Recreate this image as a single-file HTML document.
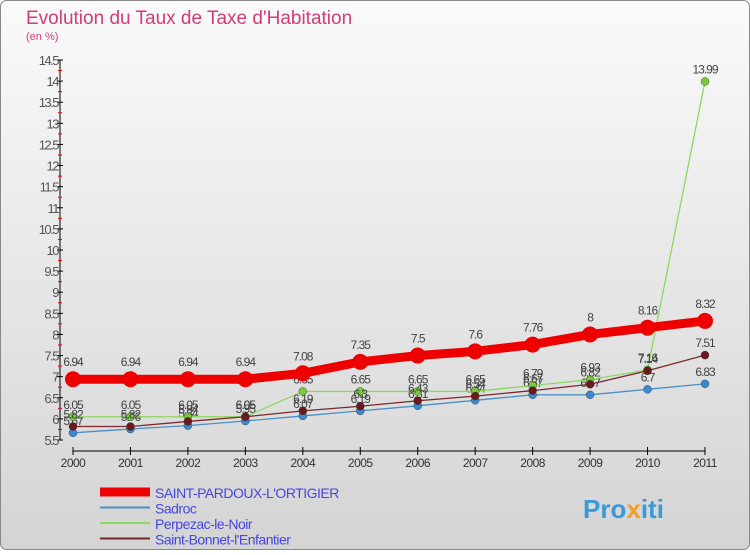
<!DOCTYPE html>
<html><head><meta charset="utf-8"><style>
body{margin:0;width:750px;height:550px;overflow:hidden;font-family:"Liberation Sans",sans-serif}
</style></head><body>
<svg id="chart" width="750" height="550" xmlns="http://www.w3.org/2000/svg">
<defs><linearGradient id="bg" x1="0" y1="0" x2="0" y2="1"><stop offset="0" stop-color="#fafafa"/><stop offset="1" stop-color="#d4d4d4"/></linearGradient></defs>
<rect x="0.5" y="0.5" width="749" height="549" rx="6" fill="url(#bg)" stroke="#888"/>
<text x="26" y="24" font-size="19" fill="#d23c78">Evolution du Taux de Taxe d'Habitation</text>
<text x="26" y="40" font-size="11" fill="#d23c78">(en %)</text>
<g id="axes"></g><g id="series"></g><g id="legend"></g>
<text x="583" y="518" font-size="26" font-weight="bold" fill="#3a9ad9">Pro<tspan fill="#f0a020">x</tspan>iti</text>
</svg>
<script>
const years=[2000,2001,2002,2003,2004,2005,2006,2007,2008,2009,2010,2011];
const yTicks=[5.5,6,6.5,7,7.5,8,8.5,9,9.5,10,10.5,11,11.5,12,12.5,13,13.5,14,14.5];
const saintPardoux=[6.94,6.94,6.94,6.94,7.08,7.35,7.5,7.6,7.76,8,8.16,8.32];
const sadroc=[5.67,5.76,5.84,5.95,6.07,6.19,6.31,6.44,6.57,6.57,6.7,6.83];
const perpezac=[6.05,6.05,6.05,6.05,6.65,6.65,6.65,6.65,6.79,6.93,7.16,13.99];
const saintBonnet=[5.82,5.82,5.94,6.05,6.19,6.3,6.43,6.54,6.67,6.82,7.14,7.51];
const names=["SAINT-PARDOUX-L'ORTIGIER","Sadroc","Perpezac-le-Noir","Saint-Bonnet-l'Enfantier"];
const NS="http://www.w3.org/2000/svg";
const X=i=>73+i*(705-73)/(years.length-1);
const Y=v=>440-(v-5.5)*(380/9);
function mk(tag,attrs,parent,text){const e=document.createElementNS(NS,tag);for(const k in attrs)e.setAttribute(k,attrs[k]);if(text!==undefined)e.textContent=text;parent.appendChild(e);return e;}
const ax=document.getElementById('axes');
let e=mk('line',{x1:60,y1:60,x2:60,y2:440,stroke:'#000'},ax);


e=mk('line',{x1:73,y1:451,x2:705,y2:451,stroke:'#000'},ax);


yTicks.forEach((t,i)=>{const y=Y(t);
 mk('line',{x1:57,y1:y,x2:63,y2:y,stroke:'#000'},ax);
 if(i<yTicks.length-1)mk('line',{x1:58,y1:Y(t+0.25),x2:62,y2:Y(t+0.25),stroke:'#e00'},ax);
 e=mk('text',{x:58,y:y+5,'font-size':13,fill:'#555','text-anchor':'end','letter-spacing':'-1.5'},ax,String(t));
 
 
});
years.forEach((yr,i)=>{const x=X(i);
 mk('line',{x1:x,y1:447,x2:x,y2:455,stroke:'#000'},ax);
 e=mk('text',{x:x,y:467,'font-size':12,fill:'#333','text-anchor':'middle','letter-spacing':'-0.5'},ax,String(yr));
 
 
});
const sg=document.getElementById('series');
const defs=[[sadroc,'#4a90c8','#3a8ad0',1.3,4,'sadroc'],[perpezac,'#8cd860','#78c83a',1.3,4,'perpezac'],[saintBonnet,'#7a2a2a','#6a1a1a',1.3,4,'saint-bonnet'],[saintPardoux,'#ee0000','#ee0000',9,8,'saint-pardoux']];
defs.forEach(([data,lc,pc,w,r,nm],si)=>{
 const g=mk('g',{},sg);
 
 
 e=mk('polyline',{points:data.map((v,i)=>X(i)+','+Y(v)).join(' '),fill:'none',stroke:lc,'stroke-width':w,'stroke-linejoin':'round'},g);
 
 
 data.forEach((v,i)=>{
  e=mk('circle',{cx:X(i),cy:Y(v),r:r,fill:pc,stroke:r>5?'none':'#333','stroke-width':0.4},g);
  
  
  e=mk('text',{x:X(i),y:Y(v)-(r>5?13:8),'font-size':12,fill:'#444','text-anchor':'middle','letter-spacing':'-1'},g,String(v));
  
  
 });
});
const lg=document.getElementById('legend');
const lcols=['#ee0000','#4a90c8','#8cd860','#7a2a2a'];const lw=[9,2,2,2];
names.forEach((n,i)=>{const y=492+i*15.5;
 const g=mk('g',{},lg);
 
 
 mk('line',{x1:100,y1:y,x2:150,y2:y,stroke:lcols[i],'stroke-width':lw[i]},g);
 mk('text',{x:155,y:y+6,'font-size':14,fill:'#4646e0','letter-spacing':'-0.5'},g,n);
});
</script>
</body></html>
